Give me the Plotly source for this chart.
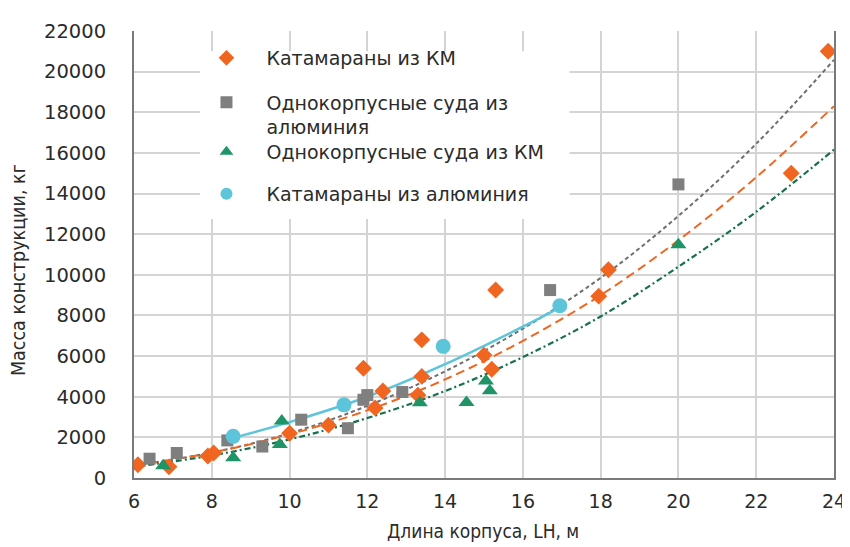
import plotly.graph_objects as go

# ---------------- data ----------------
cat_km_x = [6.1, 6.9, 7.9, 8.05, 10.0, 11.0, 11.9, 12.2, 12.4, 13.3, 13.4, 13.4, 15.0, 15.2, 15.3, 17.95, 18.2, 22.9, 23.85]
cat_km_y = [650, 550, 1080, 1230, 2200, 2600, 5400, 3450, 4280, 4080, 5000, 6800, 6050, 5350, 9250, 8950, 10250, 15000, 21000]

mono_al_x = [6.4, 7.1, 8.4, 9.3, 10.3, 11.5, 11.9, 12.0, 12.9, 16.7, 20.0]
mono_al_y = [950, 1230, 1850, 1550, 2870, 2450, 3850, 4080, 4230, 9250, 14450]

mono_km_x = [6.75, 8.55, 9.75, 9.8, 13.35, 14.55, 15.05, 15.15, 20.0]
mono_km_y = [600, 1000, 1650, 2800, 3700, 3720, 4770, 4300, 11480]

cat_al_x = [8.55, 11.4, 13.95, 16.95]
cat_al_y = [2050, 3600, 6480, 8480]

# trend lines
trend_x = [6, 8, 10, 12, 14, 16, 18, 20, 22, 24]
trend_mono_al = [620, 1250, 2200, 3550, 5250, 7350, 9850, 12900, 16450, 20580]
trend_cat_km = [620, 1250, 2150, 3330, 4850, 6750, 9000, 11700, 14800, 18300]
trend_mono_km = [550, 1110, 1900, 2950, 4280, 5950, 7950, 10400, 13100, 16160]
trend_cat_al_x = [8.5, 10, 12, 14, 16, 17.1]
trend_cat_al_y = [1950, 2750, 4000, 5600, 7450, 8550]

x_ticks = [6, 8, 10, 12, 14, 16, 18, 20, 22, 24]
y_ticks = [0, 2000, 4000, 6000, 8000, 10000, 12000, 14000, 16000, 18000, 20000, 22000]

names = ["Катамараны из КМ", "Однокорпусные суда из<br>алюминия",
         "Однокорпусные суда из КМ", "Катамараны из алюминия"]

ORANGE = "#F0651F"
GREY = "#7F7F7F"
GREEN = "#1E9467"
CYAN = "#5CC5DA"
FONT = "DejaVu Sans"
TXT = "#2b2b2b"

fig = go.Figure()

# trend lines
fig.add_trace(go.Scatter(x=trend_x, y=trend_mono_al, mode="lines", line_shape="spline",
                         line=dict(color="#6f6f6f", width=2, dash="4px,3px"), showlegend=False, hoverinfo="skip"))
fig.add_trace(go.Scatter(x=trend_x, y=trend_cat_km, mode="lines", line_shape="spline",
                         line=dict(color=ORANGE, width=2, dash="9px,5px"), showlegend=False, hoverinfo="skip"))
fig.add_trace(go.Scatter(x=trend_x, y=trend_mono_km, mode="lines", line_shape="spline",
                         line=dict(color="#17704c", width=2.2, dash="6px,3px,2px,3px"), showlegend=False, hoverinfo="skip"))
fig.add_trace(go.Scatter(x=trend_cat_al_x, y=trend_cat_al_y, mode="lines", line_shape="spline",
                         line=dict(color=CYAN, width=2.5), showlegend=False, hoverinfo="skip"))

# markers
fig.add_trace(go.Scatter(x=cat_km_x, y=cat_km_y, mode="markers", name=names[0], legend="legend",
                         marker=dict(symbol="diamond", size=13, color=ORANGE)))
fig.add_trace(go.Scatter(x=mono_al_x, y=mono_al_y, mode="markers", name=names[1], legend="legend2",
                         marker=dict(symbol="square", size=12, color=GREY)))
fig.add_trace(go.Scatter(x=mono_km_x, y=mono_km_y, mode="markers", name=names[2], legend="legend3",
                         marker=dict(symbol="triangle-up", size=14, color=GREEN)))
fig.add_trace(go.Scatter(x=cat_al_x, y=cat_al_y, mode="markers", name=names[3], legend="legend4",
                         marker=dict(symbol="circle", size=15, color=CYAN)))

L, R, T, B = 125.7, 836.7, 23, 470
W, H = 850, 547

def px2paper(px, py):
    return (px - L) / (R - L), (B - py) / (B - T)

leg_common = dict(bgcolor="rgba(0,0,0,0)", font=dict(family=FONT, size=19, color=TXT),
                  itemwidth=70, xanchor="left", yanchor="middle", itemsizing="constant")
legends = {}
for key, py in [("legend", 50), ("legend2", 107), ("legend3", 144), ("legend4", 186)]:
    xp, yp = px2paper(179, py)
    d = dict(leg_common, x=xp, y=yp)
    if key == "legend2":
        d["valign"] = "top"
    legends[key] = d

fig.update_layout(
    width=W, height=H,
    margin=dict(l=L, r=W - R, t=T, b=H - B),
    paper_bgcolor="white", plot_bgcolor="white",
    font=dict(family=FONT, color=TXT),
    **legends,
    xaxis=dict(range=[6, 24], tickvals=x_ticks, ticktext=[str(v) for v in x_ticks],
               showgrid=True, gridcolor="#d4d4d4", gridwidth=1.5,
               showline=True, linecolor="#7a7a7a", linewidth=2,
               ticks="", tickfont=dict(family=FONT, size=19, color=TXT),
               ticklabelstandoff=5, zeroline=False),
    yaxis=dict(range=[0, 22000], tickvals=y_ticks, ticktext=[str(v) for v in y_ticks],
               showgrid=True, gridcolor="#d4d4d4", gridwidth=1.5,
               showline=True, linecolor="#7a7a7a", linewidth=2, mirror=True,
               ticks="", tickfont=dict(family=FONT, size=19.5, color=TXT),
               ticklabelstandoff=22, zeroline=False),
    shapes=[dict(type="rect", xref="x", yref="y", x0=7.7, x1=17.2, y0=12750, y1=21000,
                 fillcolor="white", line=dict(width=0), layer="between")],
    annotations=[
        dict(text="Длина корпуса, LH, м", xref="paper", yref="paper",
             x=(480 - L) / (R - L), y=-(523 - B) / (B - T), xanchor="center", yanchor="middle",
             showarrow=False, font=dict(family="DejaVu Sans Condensed, " + FONT, size=19, color=TXT)),
        dict(text="Масса конструкции, кг", xref="paper", yref="paper",
             x=-(L - 8) / (R - L), y=(B - 262) / (B - T), xanchor="center", yanchor="middle",
             textangle=-90, showarrow=False,
             font=dict(family="DejaVu Sans Condensed, " + FONT, size=19.5, color=TXT)),
    ],
)

fig.write_html("out.html")
